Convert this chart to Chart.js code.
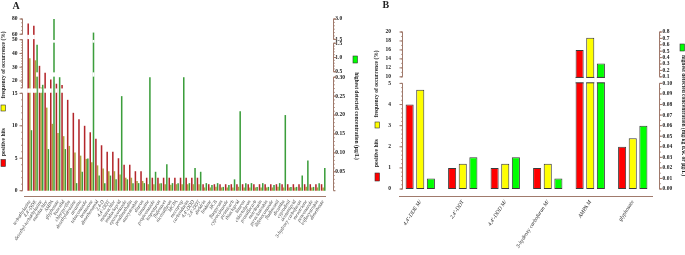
<!DOCTYPE html>
<html>
<head>
<meta charset="utf-8">
<script src="https://cdn.jsdelivr.net/npm/chart.js@4.4.1/dist/chart.umd.min.js"></script>
<style>
  html, body { margin: 0; padding: 0; background: #fff; }
  #wrap { position: relative; width: 685px; height: 255px; overflow: hidden; }
  canvas { position: absolute; top: 0; }
  #cA { left: 0; }
  #cB { left: 370px; }
</style>
</head>
<body>
<div id="wrap">
  <canvas id="cA" width="370" height="255"></canvas>
  <canvas id="cB" width="315" height="255"></canvas>
</div>
<script>
// ---- panel A data ----
const compoundsA = [
  "terbuthylazine", "4,4'-DDE", "desethyl-terbuthylazine", "metolachlor", "AMPA",
  "glyphosate", "boscalid", "chlorpyrifos", "desethylatrazine", "atrazine",
  "tebuconazole", "bentazone", "dimethenamid", "2,4-D", "4,4'-DDT",
  "metazachlor", "imidacloprid", "epoxiconazole", "pendimethalin", "azoxystrobin",
  "diuron", "simazine", "propiconazole", "isoproturon", "flufenacet",
  "nicosulfuron", "MCPA", "mecoprop", "carbendazim", "4,4'-DDD",
  "2,4'-DDT", "dieldrin", "lindane", "HCB", "fluopyram",
  "cyproconazole", "pirimicarb", "thiacloprid", "linuron", "chlortoluron",
  "prosulfocarb", "metribuzin", "pyraclostrobin", "difenoconazole", "fludioxonil",
  "dicamba", "cyprodinil", "acetamiprid", "3-hydroxy carbofuran", "mesotrione",
  "penconazole", "trifloxystrobin", "dimethoate"
];
const hitsA = [74, 71, 31, 26, 21, 18, 17, 14, 12, 11, 10, 9, 8, 7, 6, 6, 5, 4, 4, 3, 3,
  2, 2, 2, 2, 2, 2, 2, 2, 2, 2,
  1, 1, 1, 1, 1, 1, 1, 1, 1, 1, 1, 1, 1, 1, 1, 1, 1, 1, 1, 1, 1, 1];
const freqA = [36.5, 35.0, 15.3, 12.8, 10.3, 8.9, 8.4, 6.9, 5.9, 5.4, 4.9, 4.4, 3.9, 3.4, 3.0, 3.0, 2.5, 2.0, 2.0, 1.5, 1.5,
  1.0, 1.0, 1.1, 1.0, 0.9, 1.0, 1.0, 1.0, 1.0, 1.0,
  0.5, 0.5, 0.6, 0.5, 0.5, 0.5, 0.6, 0.5, 0.5, 0.5, 0.5, 0.5, 0.5, 0.6, 0.5, 0.5, 0.5, 0.5, 0.6, 0.5, 0.5, 0.5];
const concA = [0.16, 1.45, 0.28, 0.11, 3.0, 0.30, 0.11, 0.06, 0.02, 0.05,
  0.085, 2.0, 0.04, 0.02, 0.04, 0.03, 0.25, 0.03, 0.02, 0.02,
  0.02, 0.30, 0.05, 0.02, 0.07, 0.02, 0.02, 0.30, 0.02, 0.06,
  0.05, 0.02, 0.015, 0.02, 0.01, 0.015, 0.03, 0.21, 0.02, 0.02,
  0.01, 0.02, 0.01, 0.015, 0.02, 0.20, 0.01, 0.01, 0.04, 0.08,
  0.01, 0.02, 0.06];
const leftTicksA = [0, 5, 10, 15, 20, 30, 40, 50, 60, 80];
const rightTicksA = [0.05, 0.10, 0.15, 0.20, 0.25, 0.30, 0.5, 1.0, 1.5, 1.5001, 3.0];

// ---- panel B data ----
const compoundsB = ["4,4'-DDE M/", "2,4'-DDT", "4,4'-DDD M/", "3-hydroxy carbofuran M/", "AMPA M", "glyphosate"];
const hitsB = [4, 1, 1, 1, 16, 2];
const freqB = [4.7, 1.2, 1.2, 1.2, 18.7, 2.4];
const concB = [0.01, 0.03, 0.03, 0.01, 0.31, 0.06];
const leftTicksB = [0, 1, 2, 3, 4, 5, 10, 12, 14, 16, 18, 20];
const rightTicksB = [0, 0.01, 0.02, 0.03, 0.04, 0.05, 0.06, 0.07, 0.08, 0.09, 0.10,
  0.1001, 0.2, 0.3, 0.4, 0.5, 0.6, 0.7, 0.8];

// broken axes: [from, to, start fraction, end fraction, minor step]
const SEGS = {
  cA: {
    yL: [[0, 15, 0.03, 0.58, 1], [15, 50, 0.611, 0.883, 2], [60, 80, 0.914, 1, 5]],
    yR: [[0, 0.3, 0.03, 0.671, 0.01], [0.5, 1.5, 0.702, 0.863, 0.1], [1.5, 3, 0.885, 1, 0.25]]
  },
  cB: {
    yL: [[0, 5, 0.0425, 0.6865, 0.2], [10, 20, 0.7266, 1, 1]],
    yR: [[0, 0.1, 0.0425, 0.6865, 0.005], [0.1, 0.8, 0.7266, 1, 0.05]]
  }
};
const TICKS = { cA: { yL: leftTicksA, yR: rightTicksA }, cB: { yL: leftTicksB, yR: rightTicksB } };
const AXIS_SHIFT = { cA: { yL: -5, yR: 7, x0: -3, x1: 0 }, cB: { yL: 3, yR: 5, x0: 0, x1: -1 } };
const AXIS_COLOR = "#a07a6c";
const SERIF = "'Liberation Serif', 'DejaVu Serif', serif";

Chart.defaults.font.family = SERIF;

function segFor(segs, v) {
  for (const s of segs) if (v <= s[1]) return s;
  return segs[segs.length - 1];
}
function fracPx(sc, f) {
  return sc.bottom - f * (sc.bottom - sc.top);
}

class BrokenScale extends Chart.LinearScale {
  static id = "broken";
  static defaults = {};
  segs() { return SEGS[this.chart.canvas.id][this.id]; }
  buildTicks() { return TICKS[this.chart.canvas.id][this.id].map(v => ({ value: v })); }
  getPixelForValue(v) {
    const s = segFor(this.segs(), v);
    return fracPx(this, s[2] + (v - s[0]) / (s[1] - s[0]) * (s[3] - s[2]));
  }
  getValueForPixel(p) {
    const f = (this.bottom - p) / (this.bottom - this.top);
    const segs = this.segs();
    let s = segs[0];
    for (const g of segs) if (f >= g[2]) s = g;
    return s[0] + (f - s[2]) / (s[3] - s[2]) * (s[1] - s[0]);
  }
}
Chart.register(BrokenScale);

// white gaps through the bars at each axis break, plus the broken axis lines
const brokenAxes = {
  id: "brokenAxes",
  afterDatasetsDraw(chart) {
    const ctx = chart.ctx, id = chart.canvas.id;
    chart.data.datasets.forEach((ds, i) => {
      const meta = chart.getDatasetMeta(i);
      const sc = chart.scales[meta.yAxisID];
      const segs = SEGS[id][meta.yAxisID];
      for (let k = 0; k < segs.length - 1; k++) {
        const y1 = fracPx(sc, segs[k][3]);
        const y2 = fracPx(sc, segs[k + 1][2]);
        meta.data.forEach(bar => {
          if (bar.y >= y2) return;
          const w = bar.width;
          ctx.save();
          ctx.fillStyle = "#fff";
          ctx.fillRect(bar.x - w / 2 - 0.3, y2 + 0.6, w + 0.6, y1 - y2 - 1.2);
          if (ds.borderWidth) {
            ctx.strokeStyle = ds.borderColor;
            ctx.lineWidth = 1;
            ctx.beginPath();
            ctx.moveTo(bar.x - w / 2, y2 + 0.6); ctx.lineTo(bar.x + w / 2, y2 + 0.6);
            ctx.moveTo(bar.x - w / 2, y1 - 0.6); ctx.lineTo(bar.x + w / 2, y1 - 0.6);
            ctx.stroke();
          }
          ctx.restore();
        });
      }
    });
  },
  afterDraw(chart) {
    const ctx = chart.ctx, id = chart.canvas.id, a = chart.chartArea, sh = AXIS_SHIFT[id];
    ctx.save();
    ctx.strokeStyle = AXIS_COLOR;
    ["yL", "yR"].forEach(key => {
      const sc = chart.scales[key], segs = SEGS[id][key];
      const x = Math.round((key === "yL" ? a.left : a.right) + sh[key]) + 0.5;
      const dir = key === "yL" ? -1 : 1;
      ctx.lineWidth = 1;
      ctx.beginPath();
      segs.forEach(s => {
        const yb = fracPx(sc, s[2]), yt = fracPx(sc, s[3]);
        ctx.moveTo(x, yb); ctx.lineTo(x, yt);
        ctx.moveTo(x, yb); ctx.lineTo(x + dir * 2, yb);
        ctx.moveTo(x, yt); ctx.lineTo(x + dir * 2, yt);
      });
      sc.ticks.forEach(t => {
        const y = sc.getPixelForValue(t.value);
        ctx.moveTo(x, y); ctx.lineTo(x + dir * 3, y);
      });
      ctx.stroke();
      ctx.lineWidth = 0.7;
      ctx.beginPath();
      segs.forEach(s => {
        const n = Math.round((s[1] - s[0]) / s[4]);
        for (let j = 0; j <= n; j++) {
          const y = fracPx(sc, s[2] + j / n * (s[3] - s[2]));
          ctx.moveTo(x, y); ctx.lineTo(x + dir * 1.5, y);
        }
      });
      ctx.stroke();
    });
    ctx.lineWidth = 1;
    ctx.beginPath();
    const yx = Math.round(a.bottom) + 0.5;
    ctx.moveTo(a.left + sh.x0, yx); ctx.lineTo(a.right + sh.x1, yx);
    ctx.stroke();
    ctx.restore();
  }
};

// panel letters, split axis titles and their colour keys
const panelText = {
  id: "panelText",
  afterDraw(chart, args, opts) {
    const ctx = chart.ctx;
    (opts.items || []).forEach(it => {
      ctx.save();
      if (it.box) {
        ctx.fillStyle = it.box;
        ctx.strokeStyle = "#333";
        ctx.lineWidth = 0.6;
        ctx.fillRect(it.x, it.y, it.w, it.h);
        ctx.strokeRect(it.x, it.y, it.w, it.h);
      } else {
        ctx.translate(it.x, it.y);
        ctx.rotate((it.rot || 0) * Math.PI / 180);
        ctx.font = it.font || ("bold 5.5px " + SERIF);
        ctx.fillStyle = "#222";
        ctx.textAlign = it.align || "center";
        ctx.textBaseline = "middle";
        ctx.fillText(it.text, 0, 0);
      }
      ctx.restore();
    });
  }
};

function yAxis(pos, min, max, width, pad, fmt) {
  return {
    type: "broken", position: pos, min: min, max: max,
    grid: { display: false, drawTicks: false }, border: { display: false },
    ticks: { autoSkip: false, padding: pad, color: "#222", font: { size: 5.5, weight: "bold" }, callback: fmt },
    afterFit: s => { s.width = width; s.paddingTop = 0; s.paddingBottom = 0; }
  };
}
function xAxis(height, size, color) {
  return {
    grid: { display: false, drawTicks: false }, border: { display: false },
    ticks: { autoSkip: false, minRotation: 57, maxRotation: 57, padding: 3, color: color,
             font: { size: size, style: "italic" } },
    afterFit: s => { s.height = height; s.paddingLeft = 0; s.paddingRight = 0; }
  };
}

new Chart(document.getElementById("cA"), {
  type: "bar",
  data: {
    labels: compoundsA,
    datasets: [
      { label: "positive hits", data: hitsA, backgroundColor: "#b3262b", yAxisID: "yL" },
      { label: "frequency of occurrence (%)", data: freqA, backgroundColor: "#aca33c", yAxisID: "yL" },
      { label: "highest detected concentration (µg/L)", data: concA, backgroundColor: "#3c9e3c", yAxisID: "yR" }
    ]
  },
  options: {
    responsive: false, animation: false, events: [],
    layout: { padding: { top: 19, left: 0, right: 0, bottom: 0 } },
    datasets: { bar: { categoryPercentage: 0.86, barPercentage: 0.95 } },
    plugins: {
      legend: { display: false }, tooltip: { enabled: false },
      panelText: { items: [
        { text: "A", x: 12.5, y: 6, align: "left", font: "bold 10px " + SERIF },
        { text: "frequency of occurrence (%)", x: 4, y: 65, rot: -90 },
        { box: "#ffff00", x: 1, y: 105, w: 4.5, h: 6 },
        { text: "positive hits", x: 4, y: 142, rot: -90 },
        { box: "#ff0000", x: 1, y: 159.5, w: 4.5, h: 7 },
        { box: "#00ff00", x: 353, y: 56, w: 4.5, h: 7 },
        { text: "highest detected concentration (µg/L)", x: 356, y: 116, rot: 90 }
      ] }
    },
    scales: {
      x: xAxis(59, 5, "#444"),
      yL: yAxis("left", 0, 80, 27, 9.5, v => String(v)),
      yR: yAxis("right", 0, 3, 44, 9.3, v => v <= 0.3 ? v.toFixed(2) : v.toFixed(1))
    }
  },
  plugins: [brokenAxes, panelText]
});

new Chart(document.getElementById("cB"), {
  type: "bar",
  data: {
    labels: compoundsB,
    datasets: [
      { label: "positive hits", data: hitsB, backgroundColor: "#ff0000", borderColor: "#3a3a3a", borderWidth: 1, borderSkipped: false, yAxisID: "yL" },
      { label: "frequency of occurrence (%)", data: freqB, backgroundColor: "#ffff00", borderColor: "#3a3a3a", borderWidth: 1, borderSkipped: false, yAxisID: "yL" },
      { label: "highest detected concentration", data: concB, backgroundColor: "#00ff00", borderColor: "#3a3a3a", borderWidth: 1, borderSkipped: false, yAxisID: "yR" }
    ]
  },
  options: {
    responsive: false, animation: false, events: [],
    layout: { padding: { top: 32, left: 0, right: 0, bottom: 0 } },
    datasets: { bar: { categoryPercentage: 0.75, barPercentage: 0.76 } },
    plugins: {
      legend: { display: false }, tooltip: { enabled: false },
      panelText: { items: [
        { text: "B", x: 12.5, y: 5.5, align: "left", font: "bold 10px " + SERIF },
        { text: "frequency of occurrence (%)", x: 7, y: 84, rot: -90 },
        { box: "#ffff00", x: 5, y: 122, w: 4.5, h: 6 },
        { text: "positive hits", x: 7, y: 153, rot: -90 },
        { box: "#ff0000", x: 5, y: 173, w: 4.5, h: 8 },
        { box: "#00ff00", x: 310, y: 44, w: 4.5, h: 7 },
        { text: "highest detected concentration (mg/kg d.w. or µg/L)", x: 313, y: 55, rot: 90, align: "left" }
      ] }
    },
    scales: {
      x: xAxis(59, 5.5, "#222"),
      yL: yAxis("left", 0, 20, 29, 8, v => String(v)),
      yR: yAxis("right", 0, 0.8, 31, 8.5, v => v <= 0.1 ? v.toFixed(2) : v.toFixed(1))
    }
  },
  plugins: [brokenAxes, panelText]
});
</script>
</body>
</html>
